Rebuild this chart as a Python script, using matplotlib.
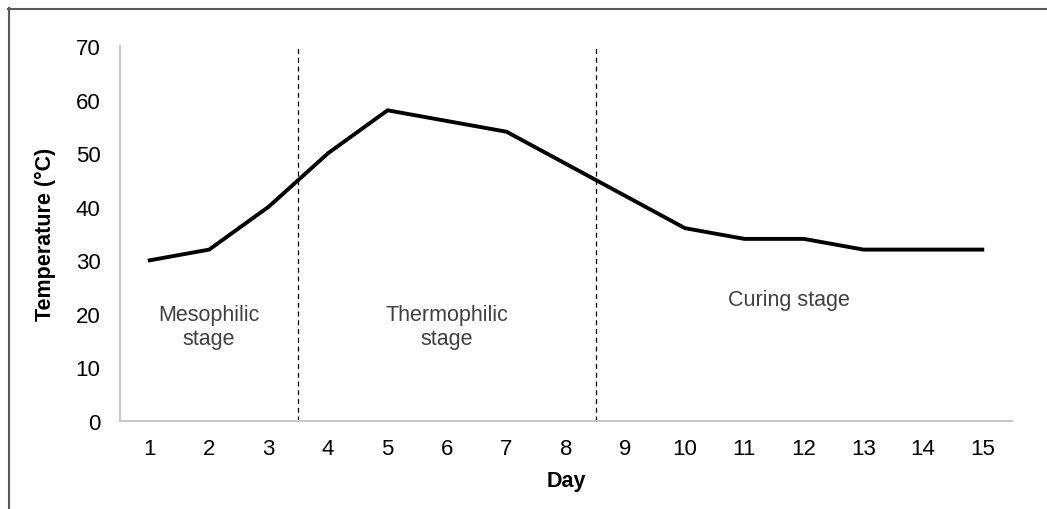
import matplotlib
matplotlib.use("Agg")
import matplotlib.pyplot as plt
from matplotlib.lines import Line2D

plt.rcParams['font.family'] = ['Liberation Sans', 'DejaVu Sans']

# ---------- data ----------
days = [1, 2, 3, 4, 5, 6, 7, 8, 9, 10, 11, 12, 13, 14, 15]
temperature = [30, 32, 40, 50, 58, 56, 54, 48, 42, 36, 34, 34, 32, 32, 32]
stage_bounds = [3.5, 8.5]
stage_labels = ["Mesophilic\nstage", "Thermophilic\nstage", "Curing stage"]
stage_label_pos = [(2, 17.6), (6, 17.6), (11.75, 22.7)]
y_ticks = [0, 10, 20, 30, 40, 50, 60, 70]

fig = plt.figure(figsize=(10.47, 5.10), dpi=100)
ax = fig.add_axes([0.1146, 0.1725, 0.852, 0.7353])

ax.plot(days, temperature, color="black", linewidth=2.8, solid_joinstyle="miter")

for xb in stage_bounds:
    ax.plot([xb, xb], [0, 70], color="black", linestyle=(0, (4, 3)), linewidth=0.9)

for lab, (lx, ly) in zip(stage_labels, stage_label_pos):
    ax.text(lx, ly, lab, ha="center", va="center", fontsize=15.5,
            color="#404040", linespacing=1.2)

ax.set_xlim(0.5, 15.5)
ax.set_ylim(0, 70)
ax.set_xticks(days)
ax.set_xticklabels([str(d) for d in days])
ax.set_yticks(y_ticks)
ax.tick_params(length=0, labelsize=16, colors="black")
ax.tick_params(axis="y", pad=14)
ax.tick_params(axis="x", pad=12)

for side in ["top", "right"]:
    ax.spines[side].set_visible(False)
for side in ["left", "bottom"]:
    ax.spines[side].set_color("#c8c8c8")
    ax.spines[side].set_linewidth(1.5)

ax.set_xlabel("Day", fontsize=15.5, fontweight="bold", labelpad=8)
ax.set_ylabel("Temperature (°C)", fontsize=15.5, fontweight="bold", labelpad=14)

# outer chart frame (only top and left edges visible in the crop)
fig.add_artist(Line2D([8 / 1047, 1.0], [1 - 9.5 / 510] * 2, transform=fig.transFigure,
                      color="#595959", linewidth=1.5))
fig.add_artist(Line2D([8.5 / 1047] * 2, [0.0, 1 - 9 / 510], transform=fig.transFigure,
                      color="#595959", linewidth=1.5))

fig.savefig("out.png", dpi=100, facecolor="white")
